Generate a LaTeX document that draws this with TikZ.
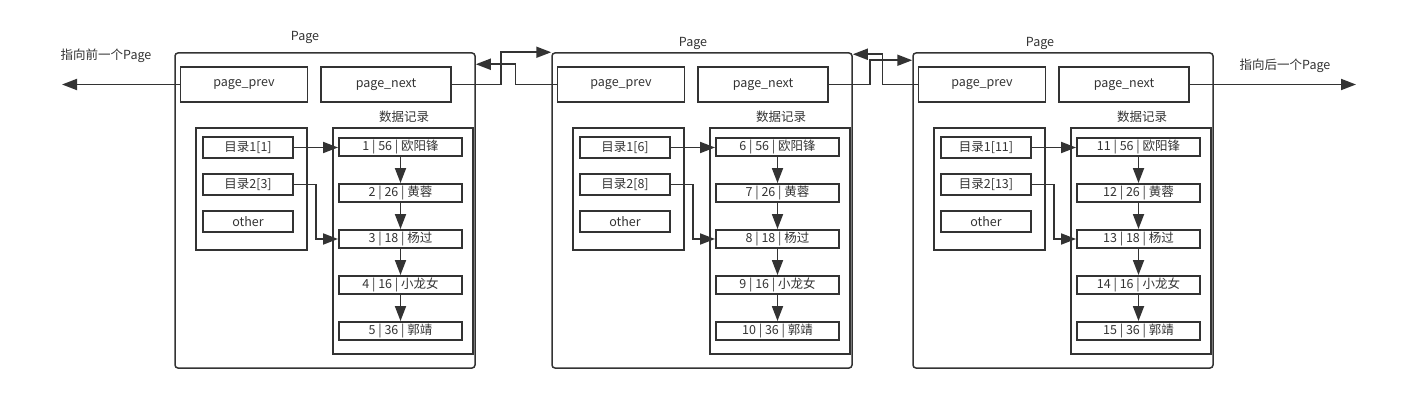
\documentclass[tikz,border=0pt]{standalone}
\usepackage{fontspec}
\setmainfont{Noto Sans CJK SC}
\usetikzlibrary{arrows.meta}
\definecolor{linec}{HTML}{333333}

\tikzstyle{frame} = [rectangle, rounded corners=3pt, draw=linec, line width=1.5pt, minimum width=300pt, minimum height=315pt]
\tikzstyle{ptr} = [rectangle, draw=linec, line width=1.9pt, minimum width=127pt, minimum height=35pt, text=linec]
\tikzstyle{group} = [rectangle, draw=linec, line width=1.9pt]
\tikzstyle{toc} = [rectangle, draw=linec, line width=1.9pt, minimum width=90pt, minimum height=21pt, inner sep=0pt, text=linec]
\tikzstyle{rec} = [rectangle, draw=linec, line width=1.9pt, minimum width=123pt, minimum height=18pt, inner sep=0pt, text=linec]
\tikzstyle{lbl} = [text=linec]
\tikzstyle{link} = [->, draw=linec, line width=1.8pt]

\begin{document}
\begin{tikzpicture}[x=1pt,y=-1pt,node distance=46pt,>={Triangle[length=15pt,width=11pt]},font=\fontsize{12.5}{14}\selectfont]
\useasboundingbox (0,0) rectangle (1421,403);

% page 1
\node[frame] (page1) at (325,210.5) {};
\node[lbl] (title1) at (305,37) {Page};
\node[ptr] (prev1) at (244,84.5) {page\_prev};
\node[ptr, minimum width=130pt] (next1) at (386,84.5) {page\_next};
\node[lbl] (caption1) at (404,117) {数据记录};
\node[group, minimum width=111pt, minimum height=122pt] (dir1) at (251.5,189) {};
\node[group, minimum width=140pt, minimum height=226pt] (data1) at (403,241) {};
\node[toc] (toc1a) at (248,147.5) {目录1[1]};
\node[toc] (toc1b) [below of=toc1a, node distance=37pt] {目录2[3]};
\node[toc] (other1) [below of=toc1b, node distance=37pt] {other};
\node[rec] (r1a) at (400.5,147) {1 | 56 | 欧阳锋};
\node[rec] (r1b) [below of=r1a] {2 | 26 | 黄蓉};
\node[rec] (r1c) [below of=r1b] {3 | 18 | 杨过};
\node[rec] (r1d) [below of=r1c] {4 | 16 | 小龙女};
\node[rec] (r1e) [below of=r1d] {5 | 36 | 郭靖};

% page 2
\node[frame] (page2) at (702,210.5) {};
\node[lbl] (title2) at (693,43) {Page};
\node[ptr] (prev2) at (621,84.5) {page\_prev};
\node[ptr, minimum width=130pt] (next2) at (763,84.5) {page\_next};
\node[lbl] (caption2) at (781,117) {数据记录};
\node[group, minimum width=111pt, minimum height=122pt] (dir2) at (628.5,189) {};
\node[group, minimum width=140pt, minimum height=226pt] (data2) at (780,241) {};
\node[toc] (toc2a) at (625,147.5) {目录1[6]};
\node[toc] (toc2b) [below of=toc2a, node distance=37pt] {目录2[8]};
\node[toc] (other2) [below of=toc2b, node distance=37pt] {other};
\node[rec] (r2a) at (777.5,147) {6 | 56 | 欧阳锋};
\node[rec] (r2b) [below of=r2a] {7 | 26 | 黄蓉};
\node[rec] (r2c) [below of=r2b] {8 | 18 | 杨过};
\node[rec] (r2d) [below of=r2c] {9 | 16 | 小龙女};
\node[rec] (r2e) [below of=r2d] {10 | 36 | 郭靖};

% page 3
\node[frame] (page3) at (1063,210.5) {};
\node[lbl] (title3) at (1040,43) {Page};
\node[ptr] (prev3) at (982,84.5) {page\_prev};
\node[ptr, minimum width=130pt] (next3) at (1124,84.5) {page\_next};
\node[lbl] (caption3) at (1142,117) {数据记录};
\node[group, minimum width=111pt, minimum height=122pt] (dir3) at (989.5,189) {};
\node[group, minimum width=140pt, minimum height=226pt] (data3) at (1141,241) {};
\node[toc] (toc3a) at (986,147.5) {目录1[11]};
\node[toc] (toc3b) [below of=toc3a, node distance=37pt] {目录2[13]};
\node[toc] (other3) [below of=toc3b, node distance=37pt] {other};
\node[rec] (r3a) at (1138.5,147) {11 | 56 | 欧阳锋};
\node[rec] (r3b) [below of=r3a] {12 | 26 | 黄蓉};
\node[rec] (r3c) [below of=r3b] {13 | 18 | 杨过};
\node[rec] (r3d) [below of=r3c] {14 | 16 | 小龙女};
\node[rec] (r3e) [below of=r3d] {15 | 36 | 郭靖};

% outer pointers
\coordinate (before) at (62,84.5);
\coordinate (after) at (1356,84.5);
\node[lbl] (beforetext) at (106,56) {指向前一个Page};
\node[lbl] (aftertext) at (1285,66) {指向后一个Page};
\draw[link] (prev1.west) -- (before);
\draw[link] (next3.east) -- (after);

% links between pages
\draw[link] (next1.east) -- ++(49,0) |- (page2.north west);
\draw[link] (prev2.west) -- ++(-41,0) |- ([yshift=-12pt]page1.north east);
\draw[link] (next2.east) -- ++(41,0) |- ([yshift=-8pt]page3.north west);
\draw[link] (prev3.west) -- ++(-35,0) |- ([yshift=-2pt]page2.north east);

% directory to records
\draw[link] (toc1a.east) -- (toc1a.east -| r1a.west);
\draw[link] (toc1b.east) -- ++(22,0) |- (r1c.west);
\draw[link] (toc2a.east) -- (toc2a.east -| r2a.west);
\draw[link] (toc2b.east) -- ++(22,0) |- (r2c.west);
\draw[link] (toc3a.east) -- (toc3a.east -| r3a.west);
\draw[link] (toc3b.east) -- ++(22,0) |- (r3c.west);

% record chains
\draw[link] (r1a) -- (r1b);
\draw[link] (r1b) -- (r1c);
\draw[link] (r1c) -- (r1d);
\draw[link] (r1d) -- (r1e);
\draw[link] (r2a) -- (r2b);
\draw[link] (r2b) -- (r2c);
\draw[link] (r2c) -- (r2d);
\draw[link] (r2d) -- (r2e);
\draw[link] (r3a) -- (r3b);
\draw[link] (r3b) -- (r3c);
\draw[link] (r3c) -- (r3d);
\draw[link] (r3d) -- (r3e);

\end{tikzpicture}
\end{document}
